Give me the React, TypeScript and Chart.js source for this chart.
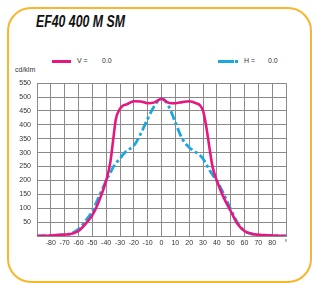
import React, { useEffect, useRef } from "react";
import { Chart, registerables } from "chart.js";

Chart.register(...registerables);

const angles = [-90, -80, -70, -65, -60, -55, -50, -45, -40, -37, -35, -33, -30, -28, -25, -20, -15, -10, -5, 0, 5, 10, 15, 20, 25, 28, 30, 32, 35, 37, 40, 45, 50, 55, 60, 65, 70, 80, 90];
const vValues = [0, 2, 5, 8, 18, 43, 75, 128, 199, 265, 343, 420, 458, 469, 474, 485, 484, 478, 481, 494, 480, 478, 482, 485, 478, 469, 451, 404, 307, 247, 199, 138, 90, 43, 18, 8, 4, 2, 0];
const hValues = [0, 2, 5, 10, 25, 54, 90, 144, 199, 228, 247, 262, 278, 292, 307, 325, 368, 422, 469, 495, 469, 409, 350, 319, 301, 290, 278, 262, 235, 220, 199, 151, 97, 48, 18, 8, 4, 2, 0];
const xTicks = [-90, -80, -70, -60, -50, -40, -30, -20, -10, 0, 10, 20, 30, 40, 50, 60, 70, 80, 90];
const yTicks = [0, 50, 100, 150, 200, 250, 300, 350, 400, 450, 500, 550];

const PINK = "#e8177f";
const BLUE = "#1aa7e2";
const ORANGE = "#f8b62d";

export default function App() {
  const ref = useRef<HTMLCanvasElement | null>(null);
  useEffect(() => {
    if (!ref.current) return;
    const chart = new Chart(ref.current, {
      type: "line",
      data: {
        datasets: [
          {
            label: "V",
            data: angles.map((a, i) => ({ x: a, y: vValues[i] })),
            borderColor: PINK,
            borderWidth: 2.6,
            pointRadius: 0,
            cubicInterpolationMode: "monotone",
            fill: false,
          },
          {
            label: "H",
            data: angles.map((a, i) => ({ x: a, y: hValues[i] })),
            borderColor: BLUE,
            borderWidth: 2.8,
            borderDash: [9, 3, 3, 3],
            pointRadius: 0,
            cubicInterpolationMode: "monotone",
            fill: false,
          },
        ],
      },
      options: {
        animation: false,
        responsive: false,
        maintainAspectRatio: false,
        layout: { padding: { left: 0, right: 26, top: 8, bottom: 4 } },
        plugins: { legend: { display: false }, tooltip: { enabled: false } },
        scales: {
          x: {
            type: "linear",
            min: -90,
            max: 90,
            afterBuildTicks: (s: any) => {
              s.ticks = xTicks.map((v) => ({ value: v }));
            },
            afterFit: (s: any) => {
              s.height = 18;
            },
            grid: { color: "#8a8a8a", lineWidth: 1, drawTicks: false },
            border: { color: "#8a8a8a", width: 1 },
            ticks: {
              padding: 3,
              maxRotation: 0,
              autoSkip: false,
              color: "#333",
              font: { family: "Liberation Sans", size: 7 },
              callback: (v: any) => (v === -90 ? "" : v === 90 ? "°" : String(v)),
            },
          },
          y: {
            min: 0,
            max: 550,
            afterBuildTicks: (s: any) => {
              s.ticks = yTicks.map((v) => ({ value: v }));
            },
            afterFit: (s: any) => {
              s.width = 37;
            },
            grid: { color: "#8a8a8a", lineWidth: 1, drawTicks: false },
            border: { color: "#8a8a8a", width: 1 },
            ticks: {
              padding: 6,
              color: "#333",
              font: { family: "Liberation Sans", size: 7 },
              callback: (v: any) => (v === 0 ? "" : String(v)),
            },
          },
        },
      },
    });
    return () => chart.destroy();
  }, []);

  const txt: React.CSSProperties = {
    position: "absolute",
    fontFamily: "Liberation Sans, Arial, sans-serif",
    fontSize: 7,
    color: "#333",
    lineHeight: "8px",
    whiteSpace: "nowrap",
  };

  return (
    <div style={{ position: "fixed", left: 0, top: 0, width: 312, height: 283, background: "#fff", overflow: "hidden" }}>
      <div
        style={{
          position: "absolute",
          left: 7,
          top: 7,
          width: 305,
          height: 276,
          border: `2px solid ${ORANGE}`,
          borderRadius: 24,
          boxSizing: "border-box",
        }}
      />
      <div
        style={{
          position: "absolute",
          left: 36,
          top: 13,
          fontFamily: "Liberation Sans, Arial, sans-serif",
          fontWeight: "bold",
          fontStyle: "italic",
          fontSize: 16,
          color: "#111",
          whiteSpace: "nowrap",
          lineHeight: "18px",
          transform: "scaleX(0.77)",
          transformOrigin: "left center",
        }}
      >
        EF40 400 M SM
      </div>
      <div style={{ position: "absolute", left: 52, top: 60, width: 19, height: 2.5, background: PINK }} />
      <div style={{ ...txt, left: 77, top: 57 }}>V =</div>
      <div style={{ ...txt, left: 102, top: 57 }}>0.0</div>
      <div style={{ position: "absolute", left: 218, top: 60, width: 16, height: 2.5, background: BLUE }} />
      <div style={{ position: "absolute", left: 235, top: 60, width: 3, height: 2.5, background: BLUE }} />
      <div style={{ ...txt, left: 244, top: 57 }}>H =</div>
      <div style={{ ...txt, left: 268, top: 57 }}>0.0</div>
      <div style={{ ...txt, left: 15, top: 66 }}>cd/klm</div>
      <canvas ref={ref} width={312} height={185} style={{ position: "absolute", left: 0, top: 73, width: 312, height: 185 }} />
    </div>
  );
}
